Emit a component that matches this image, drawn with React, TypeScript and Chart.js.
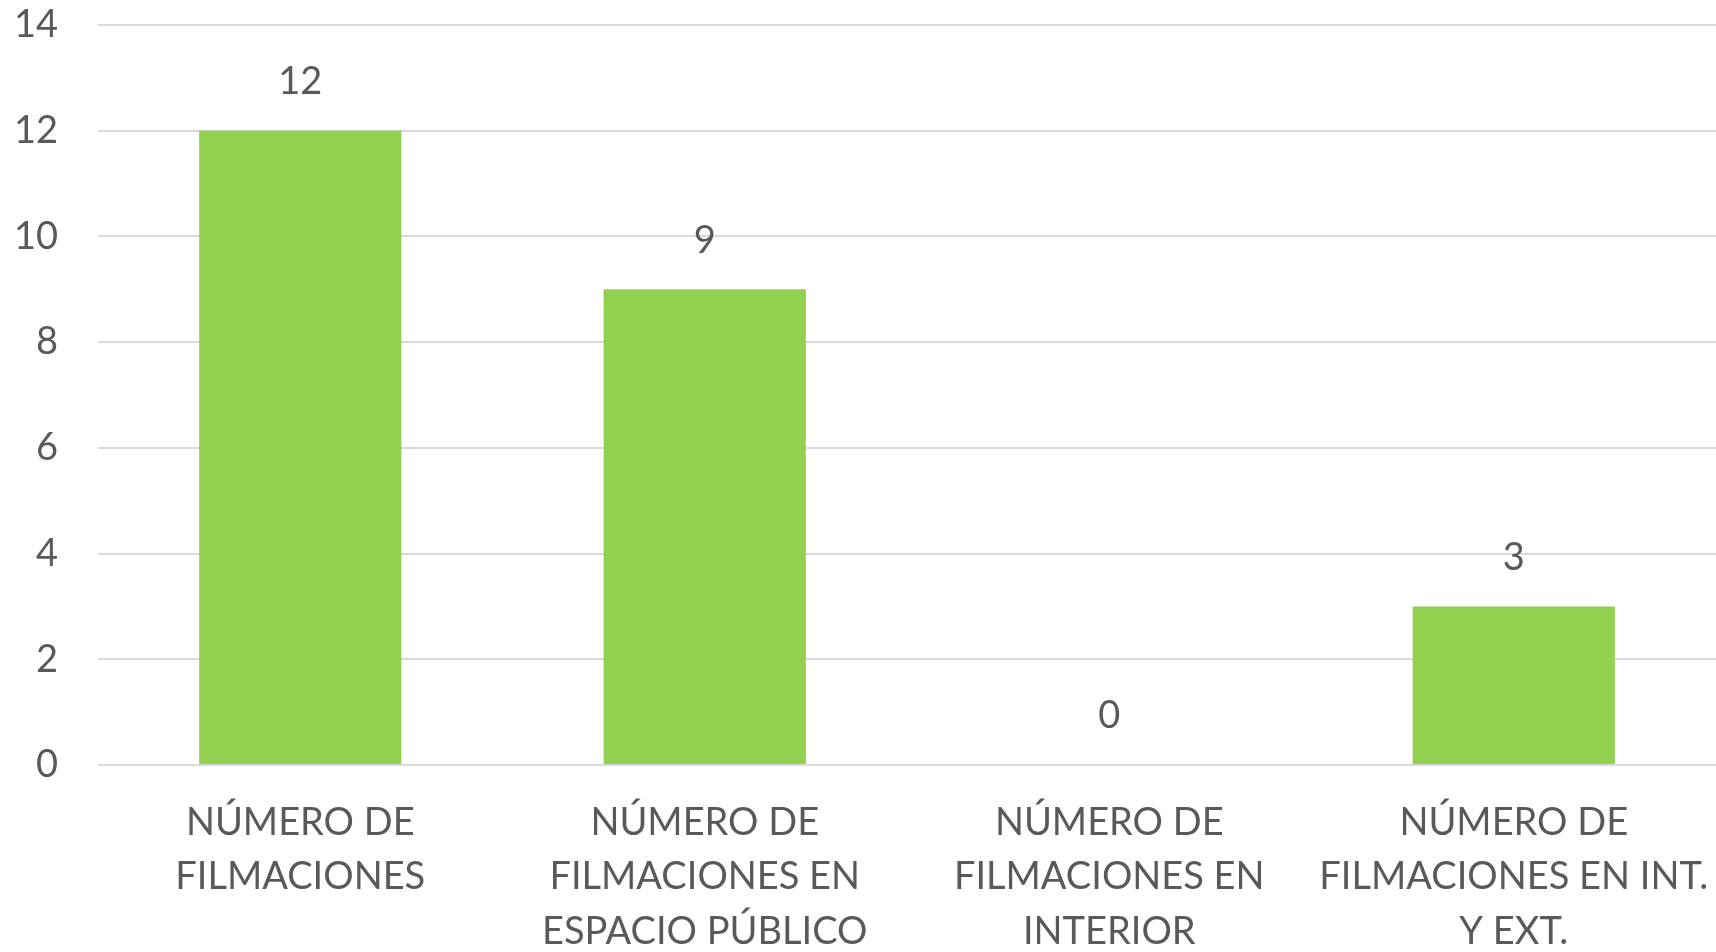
import React, { useEffect, useRef } from "react";
import { Chart, registerables } from "chart.js";

Chart.register(...registerables);

const categories: string[][] = [
  ["NÚMERO DE", "FILMACIONES"],
  ["NÚMERO DE", "FILMACIONES EN", "ESPACIO PÚBLICO"],
  ["NÚMERO DE", "FILMACIONES EN", "INTERIOR"],
  ["NÚMERO DE", "FILMACIONES EN INT.", "Y EXT."],
];
const values: number[] = [12, 9, 0, 3];
const yTicks = { min: 0, max: 14, step: 2 };

const FONT = "Lato";
const TEXT = "#595959";

const valueLabels = {
  id: "valueLabels",
  afterDatasetsDraw(chart: any) {
    const ctx = chart.ctx;
    const meta = chart.getDatasetMeta(0);
    ctx.save();
    ctx.font = `38px ${FONT}`;
    ctx.fillStyle = TEXT;
    ctx.textAlign = "center";
    ctx.textBaseline = "middle";
    meta.data.forEach((bar: any, i: number) => {
      ctx.fillText(String(values[i]), bar.x, bar.y - 49);
    });
    ctx.restore();
  },
};

export default function App() {
  const ref = useRef<HTMLCanvasElement | null>(null);
  useEffect(() => {
    document.body.style.margin = "0";
    const chart = new Chart(ref.current!, {
      type: "bar",
      data: {
        labels: categories,
        datasets: [
          {
            data: values,
            backgroundColor: "#92D050",
            categoryPercentage: 1,
            barPercentage: 0.5,
          },
        ],
      },
      plugins: [valueLabels],
      options: {
        animation: false,
        responsive: false,
        layout: { padding: { top: 25, right: 0, left: 0, bottom: 0 } },
        plugins: { legend: { display: false }, tooltip: { enabled: false } },
        scales: {
          x: {
            grid: { display: false },
            border: { display: false },
            ticks: {
              color: TEXT,
              font: { family: FONT, size: 38, lineHeight: 1.44 },
              maxRotation: 0,
              autoSkip: false,
              padding: 22,
            },
            afterFit: (s: any) => {
              s.height = 187;
              s.paddingLeft = 0;
              s.paddingRight = 0;
            },
          },
          y: {
            min: yTicks.min,
            max: yTicks.max,
            grid: { color: "#D9D9D9", lineWidth: 2, drawTicks: false },
            border: { display: false },
            ticks: {
              stepSize: yTicks.step,
              color: TEXT,
              font: { family: FONT, size: 38 },
              padding: 40,
            },
            afterFit: (s: any) => {
              s.width = 98;
              s.paddingTop = 0;
              s.paddingBottom = 0;
            },
          },
        },
      },
    });
    return () => chart.destroy();
  }, []);
  return <canvas ref={ref} width={1716} height={952} style={{ display: "block" }} />;
}
